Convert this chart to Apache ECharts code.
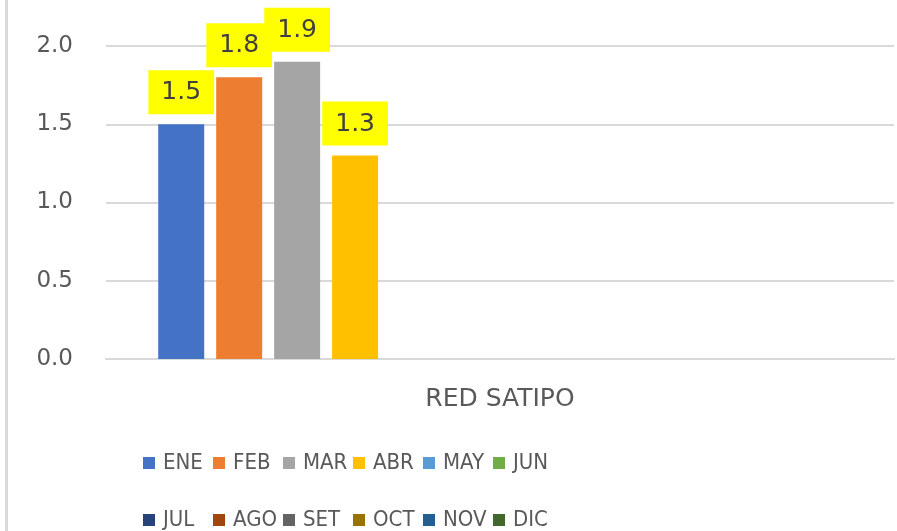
<!DOCTYPE html>
<html>
<head>
<meta charset="utf-8">
<script src="https://cdn.jsdelivr.net/npm/echarts@6/dist/echarts.min.js"></script>
<style>
  html, body { margin: 0; padding: 0; background: #ffffff; }
  #chart { width: 897px; height: 531px; }
</style>
</head>
<body>
<div id="chart"></div>
<script>
// Monthly values for the single network category
const categories = ['RED SATIPO'];
const months = ['ENE', 'FEB', 'MAR', 'ABR', 'MAY', 'JUN', 'JUL', 'AGO', 'SET', 'OCT', 'NOV', 'DIC'];
// Only January–April have data; the remaining months are empty
const monthValues = [1.5, 1.8, 1.9, 1.3, null, null, null, null, null, null, null, null];
const monthColors = ['#4472C4', '#ED7D31', '#A5A5A5', '#FFC000', '#5B9BD5', '#70AD47',
                     '#264478', '#9E480E', '#636363', '#997300', '#255E91', '#43682B'];
const yTicks = { min: 0, max: 2, interval: 0.5 };

const FONT = '"DejaVu Sans", "Open Sans", sans-serif';
const NARROW = '"DejaVu Sans Condensed", "Liberation Sans Narrow", "Roboto", sans-serif';
const gridColor = '#d9d9d9';

const series = months.map((m, i) => ({
  name: m,
  type: 'bar',
  data: [monthValues[i]],
  barWidth: 46,
  barGap: '26%',
  itemStyle: { color: monthColors[i] },
  label: {
    show: monthValues[i] !== null,
    position: 'top',
    distance: 10,
    formatter: p => p.value.toFixed(1),
    backgroundColor: '#FFFF00',
    padding: [10, 13, 9, 13],
    color: '#404040',
    fontFamily: FONT,
    fontSize: 25
  }
}));

// One legend entry per month, laid out in an evenly spaced 6-column grid
const LEGEND_COLS = 6, LEGEND_X0 = 143, LEGEND_STEP = 70;
const LEGEND_ROW_TOPS = [452, 509];
const legends = months.map((name, i) => ({
  data: [name],
  orient: 'horizontal',
  left: LEGEND_X0 + LEGEND_STEP * (i % LEGEND_COLS),
  top: LEGEND_ROW_TOPS[Math.floor(i / LEGEND_COLS)],
  padding: 0,
  itemWidth: 12,
  itemHeight: 12,
  icon: 'rect',
  textStyle: {
    color: '#595959',
    fontFamily: NARROW,
    fontSize: 22,
    padding: [0, 0, 0, 3]
  }
}));

const chart = echarts.init(document.getElementById('chart'), null, { renderer: 'canvas' });
chart.setOption({
  animation: false,
  backgroundColor: '#ffffff',
  grid: { left: 106, right: 3, top: 46, bottom: 172, containLabel: false },
  xAxis: {
    type: 'category',
    data: categories,
    axisTick: { show: false },
    axisLine: { show: true, lineStyle: { color: gridColor, width: 2 } },
    axisLabel: { color: '#595959', fontFamily: FONT, fontSize: 25, margin: 28 }
  },
  yAxis: {
    type: 'value',
    min: yTicks.min,
    max: yTicks.max,
    interval: yTicks.interval,
    axisLine: { show: false },
    axisTick: { show: false },
    axisLabel: {
      color: '#595959', fontFamily: FONT, fontSize: 23, margin: 33,
      formatter: v => v.toFixed(1)
    },
    splitLine: { lineStyle: { color: gridColor, width: 2 } }
  },
  legend: legends,
  graphic: [{
    type: 'rect',
    shape: { x: 5, y: 0, width: 3, height: 531 },
    style: { fill: gridColor },
    silent: true
  }],
  series: series
});
</script>
</body>
</html>
